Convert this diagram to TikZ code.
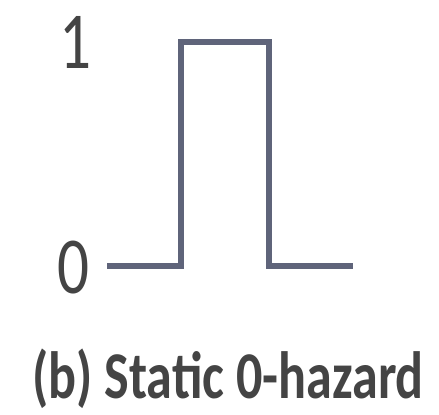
\documentclass[tikz,border=0pt]{standalone}
\usepackage{fontspec}
\setmainfont{Carlito}
\newfontfamily\narrowfont[FakeStretch=0.78]{Carlito}
\usetikzlibrary{positioning}
\definecolor{wavecol}{RGB}{95,100,122}
\definecolor{textcol}{RGB}{68,68,68}
\begin{document}
\begin{tikzpicture}[
        x=0.01cm, y=-0.01cm,
        wave/.style={draw=wavecol, line width=1.5pt},
        level/.style={font=\narrowfont\fontsize{23}{23}\selectfont, text=textcol, inner sep=0pt},
        caption/.style={font=\narrowfont\fontsize{19}{19}\selectfont\bfseries, text=textcol, inner sep=0pt}
        ]
        \useasboundingbox (0,0) rectangle (439,415);

        \node (one)   [level] at (75,42)  {1};
        \node (zero)  [level] at (73,268) {0};

        \coordinate (start) at (107,266);
        \coordinate (rise)  at (181,266);
        \coordinate (top1)  at (181,42);
        \coordinate (top2)  at (269,42);
        \coordinate (fall)  at (269,266);
        \coordinate (stop)  at (353,266);

        \draw [wave] (start) -- (rise) -- (top1) -- (top2) -- (fall) -- (stop);

        \node (cap) [caption, anchor=base] at (228,398) {(b) Static 0-hazard};
    \end{tikzpicture}
\end{document}
